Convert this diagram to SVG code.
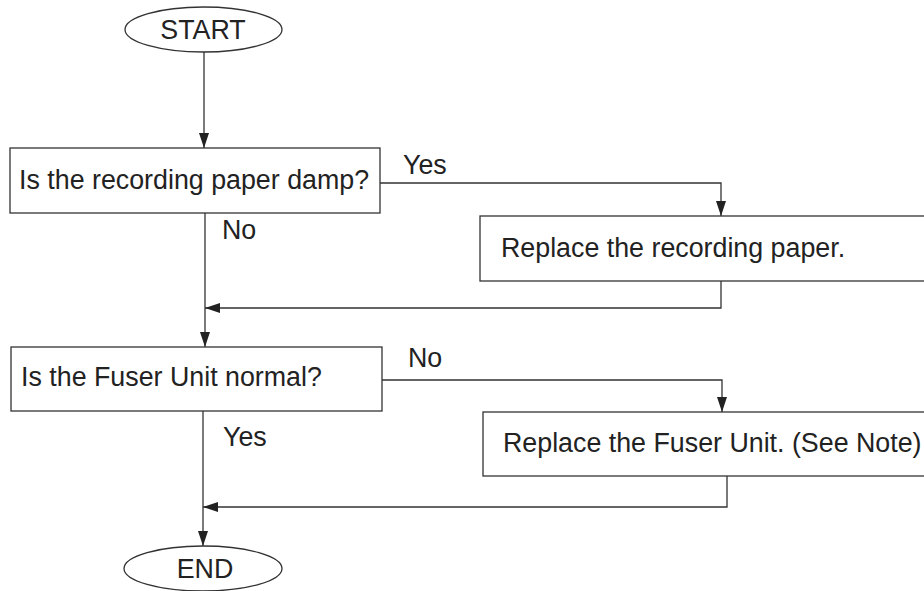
<svg xmlns="http://www.w3.org/2000/svg" width="924" height="591" viewBox="0 0 924 591">
<defs>
<marker id="ah" markerWidth="15" markerHeight="10" refX="15" refY="5" orient="auto" markerUnits="userSpaceOnUse">
<path d="M0,0 L15,5 L0,10 Z" fill="#222"/>
</marker>
<style>
.n{fill:#fff;stroke:#333;stroke-width:1.3}
.t{font-family:"Liberation Sans",Arial,sans-serif;font-size:26.8px;fill:#222}
.c{fill:none;stroke:#333;stroke-width:1.3}
</style>
</defs>
<rect width="924" height="591" fill="#fff"/>
<g id="connectors">
<path class="c" d="M204,52 V148" marker-end="url(#ah)"/>
<path class="c" d="M380,183 H721 V216" marker-end="url(#ah)"/>
<path class="c" d="M205,213 V347" marker-end="url(#ah)"/>
<path class="c" d="M721,281 V308 H205" marker-end="url(#ah)"/>
<path class="c" d="M382,380 H722 V412" marker-end="url(#ah)"/>
<path class="c" d="M203,411 V546" marker-end="url(#ah)"/>
<path class="c" d="M727,476 V507 H203" marker-end="url(#ah)"/>
<text class="t" x="403" y="174">Yes</text>
<text class="t" x="222" y="239">No</text>
<text class="t" x="408" y="367">No</text>
<text class="t" x="223" y="446">Yes</text>
</g>
<g id="start">
<ellipse class="n" cx="203.5" cy="29.5" rx="78.5" ry="22.5"/>
<text class="t" x="203" y="39" text-anchor="middle">START</text>
</g>
<g id="q1">
<rect class="n" x="10" y="148" width="370" height="65"/>
<text class="t" x="19" y="189">Is the recording paper damp?</text>
</g>
<g id="a1">
<rect class="n" x="480" y="216" width="460" height="65"/>
<text class="t" x="501" y="257">Replace the recording paper.</text>
</g>
<g id="q2">
<rect class="n" x="11" y="347" width="371" height="64"/>
<text class="t" x="21" y="386">Is the Fuser Unit normal?</text>
</g>
<g id="a2">
<rect class="n" x="483" y="412" width="460" height="64"/>
<text class="t" x="503" y="452">Replace the Fuser Unit. (See Note)</text>
</g>
<g id="end">
<ellipse class="n" cx="203" cy="568.5" rx="79" ry="22.5"/>
<text class="t" x="205" y="578" text-anchor="middle">END</text>
</g>
</svg>
